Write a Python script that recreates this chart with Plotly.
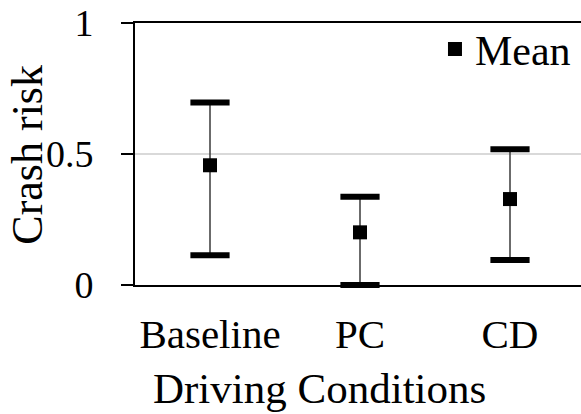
import plotly.graph_objects as go

categories = ["Baseline", "PC", "CD"]
mean_values = [0.457, 0.201, 0.328]
lower_values = [0.114, 0.0, 0.095]
upper_values = [0.697, 0.337, 0.518]
y_tick_vals = [0, 0.5, 1]
y_tick_text = ["0", "0.5", "1"]

FONT = "Liberation Serif, Times New Roman, serif"

err_plus = [u - m for u, m in zip(upper_values, mean_values)]
err_minus = [m - l for m, l in zip(mean_values, lower_values)]

fig = go.Figure()

# whiskers
fig.add_trace(go.Scatter(
    x=categories, y=mean_values, mode="markers",
    marker=dict(size=1, color="rgba(0,0,0,0)"),
    error_y=dict(type="data", symmetric=False, array=err_plus, arrayminus=err_minus,
                 color="#3a3a3a", thickness=1.5, width=0),
    showlegend=False, hoverinfo="skip",
))
# caps
fig.add_trace(go.Scatter(
    x=categories + categories, y=upper_values + lower_values, mode="markers",
    marker=dict(symbol="line-ew", size=28, line=dict(width=6, color="black")),
    showlegend=False, hoverinfo="skip", cliponaxis=False,
))
# means
fig.add_trace(go.Scatter(
    x=categories, y=mean_values, mode="markers", name="Mean",
    marker=dict(symbol="square", size=14, color="black"),
    cliponaxis=False,
))

fig.update_layout(
    width=581, height=414,
    margin=dict(l=135, r=0, t=23, b=129, autoexpand=False),
    plot_bgcolor="white", paper_bgcolor="white",
    font=dict(family=FONT, size=42, color="black"),
    showlegend=True,
    legend=dict(x=0.6726, xanchor="left", y=1.03, yanchor="top",
                bgcolor="rgba(0,0,0,0)", font=dict(size=42),
                itemwidth=30, tracegroupgap=0),
    xaxis=dict(
        type="category", range=[-0.5, 2.4733], automargin=False,
        showline=True, linecolor="black", linewidth=2, mirror=True,
        showgrid=False, ticks="", zeroline=False,
        ticklabelstandoff=12, ticklabeloverflow="allow",
        tickfont=dict(size=41),
    ),
    yaxis=dict(
        range=[0, 1], tickvals=y_tick_vals, ticktext=y_tick_text, automargin=False,
        showline=True, linecolor="black", linewidth=2,
        ticks="outside", ticklen=12, tickwidth=2, tickcolor="black",
        ticklabelstandoff=20, ticklabeloverflow="allow",
        showgrid=True, gridcolor="#d9d9d9", gridwidth=1.5, zeroline=False,
        tickfont=dict(size=38),
    ),
    annotations=[
        dict(text="Driving Conditions", xref="paper", yref="paper",
             x=0.4137, y=-0.3965, xanchor="center", yanchor="middle",
             showarrow=False, font=dict(size=43)),
        dict(text="Crash risk", xref="paper", yref="paper",
             x=-0.241, y=0.4956, xanchor="center", yanchor="middle",
             textangle=-90, showarrow=False, font=dict(size=44)),
    ],
)

fig.write_html("out.html",
               config={"displayModeBar": False},
               post_script="document.body.style.margin='0';document.body.style.overflow='hidden';")
